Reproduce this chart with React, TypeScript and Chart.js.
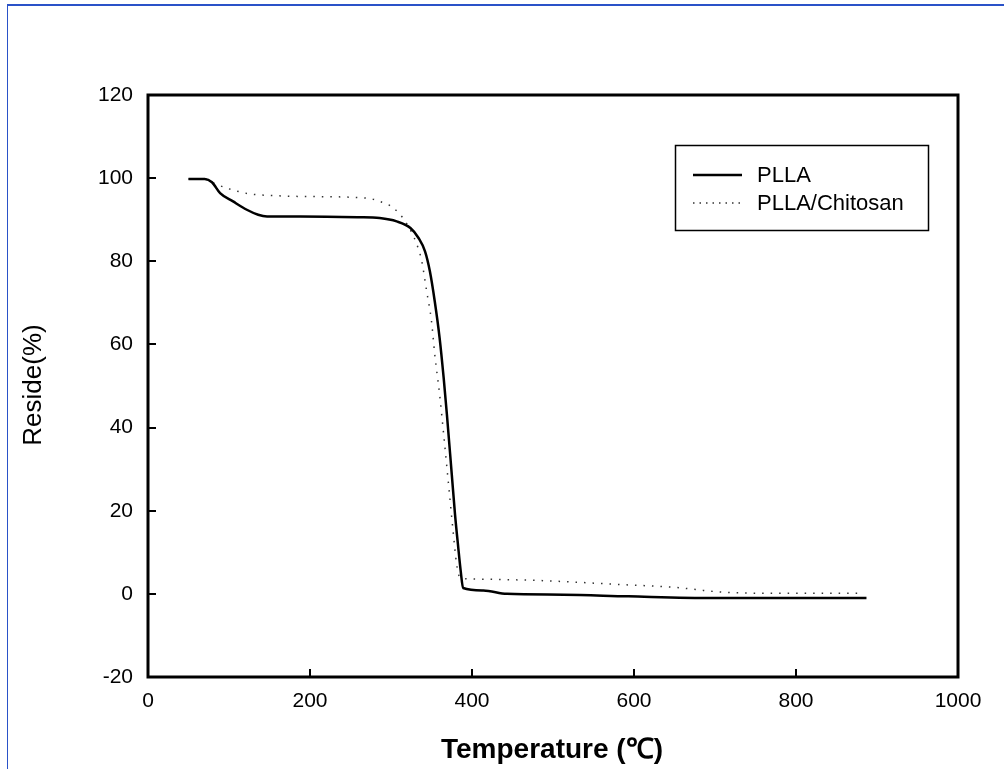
import React, { useEffect, useRef } from "react";
import { Chart, registerables } from "chart.js";

Chart.register(...registerables);

// ---- data ----
const seriesLabels = ["PLLA", "PLLA/Chitosan"];
const xTitle = "Temperature (\u2103)";
const yTitle = "Reside(%)";
const xTicks = [0, 200, 400, 600, 800, 1000];
const yTicks = [-20, 0, 20, 40, 60, 80, 100, 120];

const pllaTemp = [50, 70, 79, 89, 105, 122, 136, 147, 188, 259, 286, 307, 324, 334, 342, 348, 354, 360, 365, 369, 375, 379, 383, 386, 389, 414, 443, 513, 593, 698, 887];
const pllaResidue = [99.8, 99.8, 99.0, 96.4, 94.4, 92.4, 91.2, 90.8, 90.8, 90.6, 90.4, 89.6, 88.0, 85.6, 82.4, 77.6, 70.4, 61.6, 52.0, 43.2, 28.8, 19.2, 11.2, 5.6, 1.4, 0.8, 0.0, -0.2, -0.6, -1.0, -1.0];

const chitTemp = [50, 70, 79, 97, 126, 155, 188, 270, 286, 303, 319, 332, 338, 344, 350, 354, 360, 365, 369, 373, 377, 381, 385, 397, 484, 587, 648, 710, 772, 883];
const chitResidue = [99.8, 99.8, 99.0, 97.6, 96.2, 95.8, 95.6, 95.2, 94.4, 92.8, 89.2, 84.0, 80.0, 72.8, 65.6, 57.6, 48.0, 38.4, 30.4, 22.4, 14.4, 7.2, 4.0, 3.6, 3.2, 2.2, 1.6, 0.4, 0.15, 0.15];

const FONT = "'Liberation Sans', Arial, sans-serif";

const decorPlugin = {
  id: "decor",
  beforeDraw(chart: any) {
    const ctx = chart.ctx;
    ctx.save();
    ctx.fillStyle = "#fff";
    ctx.fillRect(0, 0, chart.width, chart.height);
    // outer blue frame (top and left edges)
    ctx.fillStyle = "#2a52c8";
    ctx.fillRect(7, 4, chart.width - 7, 2);
    ctx.fillRect(7, 4, 1, chart.height - 4);
    ctx.restore();
  },
  afterDraw(chart: any) {
    const ctx = chart.ctx;
    const { left, right, top, bottom } = chart.chartArea;
    const xs = chart.scales.x;
    const ys = chart.scales.y;
    ctx.save();
    // plot frame
    ctx.strokeStyle = "#000";
    ctx.lineWidth = 3;
    ctx.strokeRect(left, top, right - left, bottom - top);
    // inward ticks
    ctx.lineWidth = 2;
    ctx.beginPath();
    xTicks.forEach((v) => {
      const px = Math.round(xs.getPixelForValue(v));
      ctx.moveTo(px, bottom);
      ctx.lineTo(px, bottom - 8);
    });
    yTicks.forEach((v) => {
      const py = Math.round(ys.getPixelForValue(v));
      ctx.moveTo(left, py);
      ctx.lineTo(left + 8, py);
    });
    ctx.stroke();

    // legend
    ctx.lineWidth = 1.5;
    ctx.strokeRect(675.5, 145.5, 253, 85);
    const rows = [175, 203];
    ctx.lineWidth = 2.5;
    ctx.beginPath();
    ctx.moveTo(693, rows[0]);
    ctx.lineTo(742, rows[0]);
    ctx.stroke();
    ctx.lineWidth = 1.5;
    ctx.strokeStyle = "#333";
    ctx.setLineDash([1.5, 5]);
    ctx.beginPath();
    ctx.moveTo(693, rows[1]);
    ctx.lineTo(742, rows[1]);
    ctx.stroke();
    ctx.setLineDash([]);
    ctx.fillStyle = "#000";
    ctx.font = `22px ${FONT}`;
    ctx.textAlign = "left";
    ctx.textBaseline = "middle";
    seriesLabels.forEach((t, i) => ctx.fillText(t, 757, rows[i] + 1));

    // axis titles
    ctx.font = `bold 28px ${FONT}`;
    ctx.textAlign = "center";
    ctx.textBaseline = "middle";
    ctx.fillText(xTitle, 552, 750);

    ctx.translate(34, 385);
    ctx.rotate(-Math.PI / 2);
    ctx.font = `26px ${FONT}`;
    ctx.fillText(yTitle, 0, 0);
    ctx.restore();
  },
};

export default function App() {
  const ref = useRef<HTMLCanvasElement>(null);
  useEffect(() => {
    const chart = new Chart(ref.current as HTMLCanvasElement, {
      type: "line",
      data: {
        datasets: [
          {
            label: seriesLabels[0],
            data: pllaTemp.map((t, i) => ({ x: t, y: pllaResidue[i] })),
            borderColor: "#000",
            borderWidth: 2.5,
            pointRadius: 0,
            cubicInterpolationMode: "monotone",
            fill: false,
          },
          {
            label: seriesLabels[1],
            data: chitTemp.map((t, i) => ({ x: t, y: chitResidue[i] })),
            borderColor: "#333",
            borderWidth: 1.5,
            borderDash: [1.5, 7],
            pointRadius: 0,
            cubicInterpolationMode: "monotone",
            fill: false,
          },
        ],
      },
      options: {
        responsive: false,
        animation: false,
        devicePixelRatio: 1,
        layout: { padding: { left: 0, top: 95, right: 46, bottom: 0 } },
        plugins: { legend: { display: false }, tooltip: { enabled: false } },
        scales: {
          x: {
            type: "linear",
            min: 0,
            max: 1000,
            afterBuildTicks: (s: any) => {
              s.ticks = xTicks.map((v) => ({ value: v }));
            },
            afterFit: (s: any) => {
              s.height = 92;
            },
            grid: { display: false, drawTicks: false },
            border: { display: false },
            ticks: {
              color: "#000",
              font: { family: FONT, size: 21 },
              padding: 12,
              maxRotation: 0,
              callback: (v: any) => String(v),
            },
          },
          y: {
            type: "linear",
            min: -20,
            max: 120,
            afterBuildTicks: (s: any) => {
              s.ticks = yTicks.map((v) => ({ value: v }));
            },
            afterFit: (s: any) => {
              s.width = 148;
            },
            grid: { display: false, drawTicks: false },
            border: { display: false },
            ticks: {
              color: "#000",
              font: { family: FONT, size: 21 },
              padding: 15,
              callback: (v: any) => String(v),
            },
          },
        },
      },
      plugins: [decorPlugin],
    } as any);
    return () => chart.destroy();
  }, []);
  return (
    <div style={{ position: "fixed", left: 0, top: 0, width: 1004, height: 769, background: "#fff" }}>
      <canvas ref={ref} width={1004} height={769} style={{ display: "block", width: 1004, height: 769 }} />
    </div>
  );
}
